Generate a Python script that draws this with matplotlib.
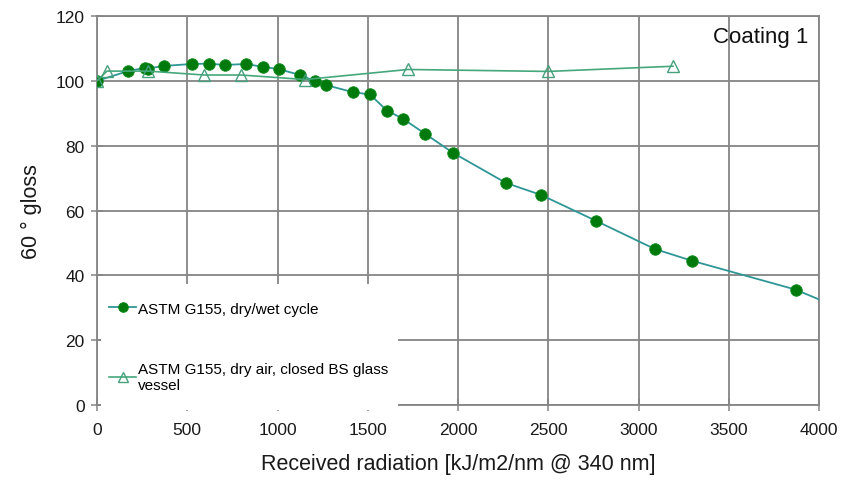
import matplotlib
matplotlib.use("Agg")
import matplotlib.pyplot as plt
from matplotlib.patches import Rectangle

plt.rcParams["font.family"] = ["Liberation Sans", "DejaVu Sans"]

# Gloss retention under ASTM G155 dry/wet cycling
wet_radiation = [0, 172, 265, 280, 371, 526, 620, 709, 825, 920, 1008, 1125,
                 1208, 1269, 1418, 1512, 1607, 1695, 1817, 1972, 2266, 2460,
                 2765, 3091, 3296, 3870, 4200]
wet_gloss = [100, 103.0, 104.0, 103.8, 104.6, 105.2, 105.3, 104.9, 105.2, 104.3,
             103.6, 101.8, 99.9, 98.7, 96.5, 95.8, 90.8, 88.3, 83.7, 77.8,
             68.5, 64.8, 56.8, 48.1, 44.5, 35.6, 27.9]

# Gloss retention under dry air in a closed BS glass vessel
dry_radiation = [0, 55, 283, 593, 798, 1152, 1723, 2499, 3191]
dry_gloss = [100, 103.0, 103.0, 101.8, 101.8, 100.4, 103.5, 102.9, 104.5]

x_ticks = [0, 500, 1000, 1500, 2000, 2500, 3000, 3500, 4000]
y_ticks = [0, 20, 40, 60, 80, 100, 120]

fig = plt.figure(figsize=(8.44, 4.85), dpi=100)
ax = fig.add_axes([97 / 844, 1 - 406 / 485, 722 / 844, 389 / 485])

grid_color = "#858585"
ax.set_xlim(0, 4000)
ax.set_ylim(0, 120)
ax.set_xticks(x_ticks)
ax.set_yticks(y_ticks)
ax.grid(True, color=grid_color, linewidth=1.3, zorder=0)
ax.set_axisbelow(True)
for s in ax.spines.values():
    s.set_color(grid_color)
    s.set_linewidth(1.3)
ax.tick_params(direction="inout", length=8, width=1.1, color=grid_color,
               labelsize=12.5, labelcolor="#1a1a1a")
ax.tick_params(axis="x", pad=8)
ax.tick_params(axis="y", pad=5)

wet_line, = ax.plot(wet_radiation, wet_gloss, color="#2f9696", linewidth=1.3,
                    marker="o", markersize=8.3, markerfacecolor="#007a0c",
                    markeredgecolor="#0a8a1a", markeredgewidth=0.6,
                    label="ASTM G155, dry/wet cycle", zorder=3)
dry_line, = ax.plot(dry_radiation, dry_gloss, color="#45a87c", linewidth=1.2,
                    marker="^", markersize=8.5, markerfacecolor="none",
                    markeredgecolor="#45a07c", markeredgewidth=1.0,
                    label="ASTM G155, dry air, closed BS glass\nvessel", zorder=4)

# White panel behind the legend, covering grid and bottom spine
ax.add_patch(Rectangle((4 / 722, -0.012), (398 - 101) / 722, 0.323,
                       transform=ax.transAxes, facecolor="white",
                       edgecolor="none", zorder=5, clip_on=False))

leg = ax.legend(handles=[wet_line, dry_line], loc="upper left",
                bbox_to_anchor=(0.0, 0.297), frameon=False, fontsize=11,
                handlelength=1.75, handletextpad=0.15, labelspacing=3.0,
                borderpad=0.3)
leg.set_zorder(6)
for h in leg.legend_handles:
    h.set_markersize(7) if h.get_marker() == "o" else h.set_markersize(7.5)

ax.text(0.985, 0.975, "Coating 1", transform=ax.transAxes, ha="right",
        va="top", fontsize=16, color="#111111", zorder=7)

ax.set_xlabel("Received radiation [kJ/m2/nm @ 340 nm]", fontsize=15.5,
              color="#1a1a1a", labelpad=12)
ax.set_ylabel("60 ° gloss", fontsize=15.5, color="#1a1a1a", labelpad=10)

fig.savefig("out.png", dpi=100)
